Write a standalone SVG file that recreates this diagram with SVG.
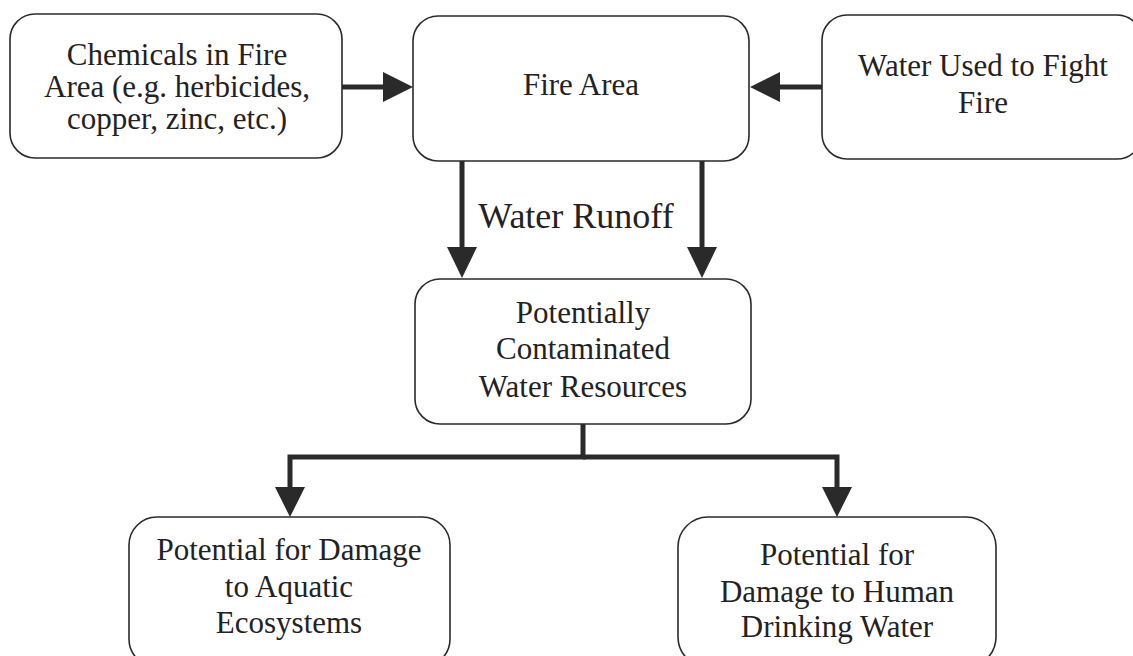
<svg xmlns="http://www.w3.org/2000/svg" width="1133" height="656" viewBox="0 0 1133 656" font-family="Liberation Serif, Times New Roman, serif">
<style>
.box{fill:#fff;stroke:#2a2a2a;stroke-width:1.6}
text{font-family:"Liberation Serif",serif}
.t{font-size:31px;fill:#222;text-anchor:middle}
.c{fill:none;stroke:#2a2a2a;stroke-width:5}
.h{fill:#2a2a2a;stroke:none}
</style>
<rect width="1133" height="656" fill="#fff"/>
<g id="connectors">
<line class="c" x1="342" y1="87" x2="386" y2="87"/>
<polygon class="h" points="413,87 383,72 383,102"/>
<line class="c" x1="822" y1="87" x2="778" y2="87"/>
<polygon class="h" points="750,87 780,72 780,102"/>
<line class="c" x1="462" y1="161" x2="462" y2="250"/>
<polygon class="h" points="462,278 447,247 477,247"/>
<line class="c" x1="702" y1="161" x2="702" y2="250"/>
<polygon class="h" points="702,278 687,247 717,247"/>
<polyline class="c" points="583,424 583,457 290,457 290,490"/>
<polyline class="c" points="583,457 837,457 837,490"/>
<polygon class="h" points="290,517 275,487 305,487"/>
<polygon class="h" points="837,517 822,487 852,487"/>
<text class="t" x="576" y="228" font-family="Liberation Serif" style="font-size:36px">Water Runoff</text>
</g>
<g id="chemicals">
<rect class="box" x="10" y="14" width="332" height="144" rx="25"/>
<text class="t" x="177" y="65">Chemicals in Fire</text>
<text class="t" x="177" y="97">Area (e.g. herbicides,</text>
<text class="t" x="177" y="129">copper, zinc, etc.)</text>
</g>
<g id="fire-area">
<rect class="box" x="413" y="16" width="336" height="145" rx="25"/>
<text class="t" x="581" y="95">Fire Area</text>
</g>
<g id="water-used">
<rect class="box" x="822" y="15" width="320" height="144" rx="25"/>
<text class="t" x="983" y="76">Water Used to Fight</text>
<text class="t" x="983" y="113">Fire</text>
</g>
<g id="contaminated">
<rect class="box" x="415" y="279" width="336" height="145" rx="25"/>
<text class="t" x="583" y="323">Potentially</text>
<text class="t" x="583" y="359">Contaminated</text>
<text class="t" x="583" y="397">Water Resources</text>
</g>
<g id="aquatic">
<rect class="box" x="129" y="517" width="321" height="150" rx="28"/>
<text class="t" x="289" y="560">Potential for Damage</text>
<text class="t" x="289" y="597">to Aquatic</text>
<text class="t" x="289" y="633">Ecosystems</text>
</g>
<g id="drinking">
<rect class="box" x="678" y="517" width="318" height="150" rx="30"/>
<text class="t" x="837" y="565">Potential for</text>
<text class="t" x="837" y="602">Damage to Human</text>
<text class="t" x="837" y="637">Drinking Water</text>
</g>
</svg>
